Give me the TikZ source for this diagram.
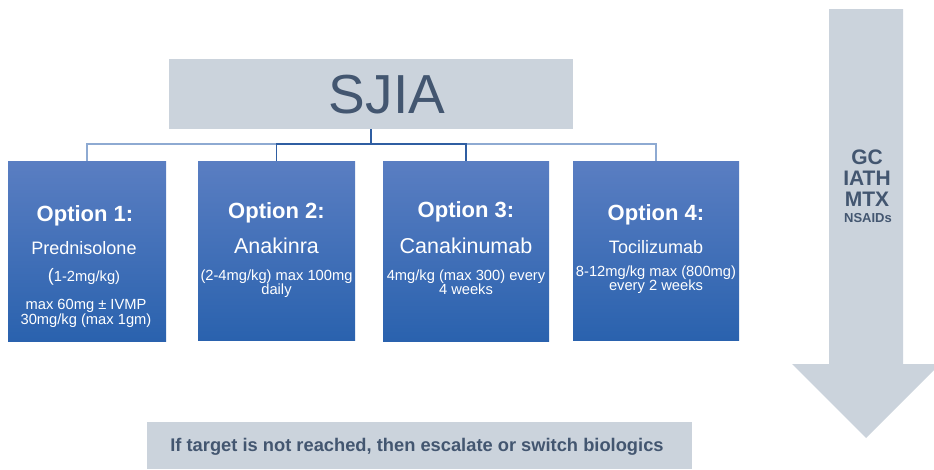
\documentclass[tikz,border=0pt]{standalone}
\usepackage{fontspec}
\setmainfont{Liberation Sans}
\definecolor{grayfill}{HTML}{CBD3DC}
\definecolor{darktext}{HTML}{435670}
\definecolor{blueTop}{HTML}{5A7EC2}
\definecolor{blueBot}{HTML}{2A62AE}
\definecolor{lineDark}{HTML}{2F5EA2}
\definecolor{lineLight}{HTML}{8EAAD2}
\newcommand{\fs}[1]{\fontsize{#1}{#1}\selectfont}
\begin{document}
\begin{tikzpicture}[x=1pt,y=-1pt,
  optbox/.style={shade, top color=blueTop, bottom color=blueBot, draw=none, inner sep=0pt},
  graybox/.style={fill=grayfill, draw=none, inner sep=0pt},
  wt/.style={text=white, align=center, inner sep=0pt},
  conn/.style={line width=1.4pt}]
\useasboundingbox (0,0) rectangle (934,469);
\begin{scope}
\clip (0,0) rectangle (934,469);
% arrow
\fill[grayfill] (829,9) -- (903,9) -- (903,364) -- (940,364) -- (866,438) -- (792,364) -- (829,364) -- cycle;
\end{scope}
\node[wt, text=darktext, font=\bfseries] (gc) at (867,157) {\fs{21}GC};
\node[wt, text=darktext, font=\bfseries] (iath) at (867,178) {\fs{21}IATH};
\node[wt, text=darktext, font=\bfseries] (mtx) at (867,199) {\fs{21}MTX};
\node[wt, text=darktext, font=\bfseries] (nsaid) at (868,218) {\fs{13}NSAIDs};

% top box
\node[graybox, minimum width=404pt, minimum height=70pt] (sjia) at (371,94) {};
\node[text=darktext, inner sep=0pt] (sjiat) at (387,95) {\fs{55}SJIA};

% option boxes
\node[optbox, minimum width=158pt, minimum height=180pt] (o1) at (87,251) {};
\node[optbox, minimum width=157pt, minimum height=179pt] (o2) at (276.5,250.5) {};
\node[optbox, minimum width=166pt, minimum height=180pt] (o3) at (466,251) {};
\node[optbox, minimum width=166pt, minimum height=179pt] (o4) at (656,250.5) {};

% connectors
\coordinate (bus) at (371,144);
\draw[conn, lineLight] (bus) -| (o1.north);
\draw[conn, lineLight] (bus) -| (o4.north);
\draw[conn, lineDark] (sjia.south) -- (bus) -| (o2.north);
\draw[conn, lineDark] (bus) -| (o3.north);

% box 1 text
\node[wt, font=\bfseries] (t1a) at (85,216) {\fs{22}Option 1:};
\node[wt] (t1b) at (84,248) {\fs{18}Prednisolone};
\node[wt] (t1c) at (84,277) {\fs{14.7}{\fs{18}(}1-2mg/kg)};
\node[wt] (t1d) at (86,314) {\fs{14.7}\begin{tabular}{@{}c@{}}max 60mg ± IVMP\\[0pt]30mg/kg (max 1gm)\end{tabular}};

% box 2 text
\node[wt, font=\bfseries] (t2a) at (276.5,213) {\fs{22}Option 2:};
\node[wt] (t2b) at (276.5,246) {\fs{21.5}Anakinra};
\node[wt] (t2c) at (276.5,284) {\fs{14.7}\begin{tabular}{@{}c@{}}(2-4mg/kg) max 100mg\\[-1pt]daily\end{tabular}};

% box 3 text
\node[wt, font=\bfseries] (t3a) at (466,212) {\fs{22}Option 3:};
\node[wt] (t3b) at (466,246) {\fs{21.5}Canakinumab};
\node[wt] (t3c) at (466,284) {\fs{14.7}\begin{tabular}{@{}c@{}}4mg/kg (max 300) every\\[-1pt]4 weeks\end{tabular}};

% box 4 text
\node[wt, font=\bfseries] (t4a) at (656,215) {\fs{22}Option 4:};
\node[wt] (t4b) at (656,247) {\fs{18}Tocilizumab};
\node[wt] (t4c) at (656,280) {\fs{14.7}\begin{tabular}{@{}c@{}}8-12mg/kg max (800mg)\\[-1pt]every 2 weeks\end{tabular}};

% bottom box
\node[graybox, minimum width=545pt, minimum height=47pt] (bottom) at (419.5,445.5) {};
\node[text=darktext, font=\bfseries, inner sep=0pt] (bottomt) at (417,447) {\fs{18.3}If target is not reached, then escalate or switch biologics};
\end{tikzpicture}
\end{document}
